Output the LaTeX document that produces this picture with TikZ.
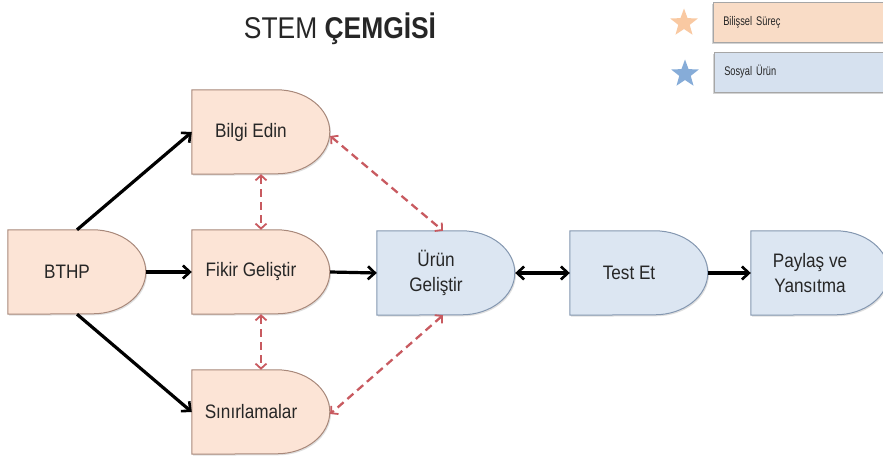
\documentclass[tikz,border=0pt]{standalone}
\usepackage{fontspec}
\setmainfont{Liberation Sans}
\newfontfamily\narrowfont[FakeStretch=0.88]{Liberation Sans}
\newfontfamily\legfont[FakeStretch=0.74,WordSpace=0.7]{Liberation Sans}
\usetikzlibrary{arrows.meta,backgrounds,shadows,shapes.geometric}
\definecolor{orfill}{HTML}{FCE4D6}
\definecolor{orline}{HTML}{A8887A}
\definecolor{blfill}{HTML}{DCE6F2}
\definecolor{blline}{HTML}{8497B0}
\definecolor{reddash}{HTML}{C85A60}
\definecolor{txt}{HTML}{262626}
\definecolor{legor}{HTML}{F9DCC6}
\definecolor{legbl}{HTML}{D6E1EF}
\definecolor{staror}{HTML}{F9C9A2}
\definecolor{starbl}{HTML}{86ACD8}
\newcommand\delayshape[2]{\path[#2] (#1.south west) -- (#1.north west) -- ([xshift=85pt]#1.north west) arc[start angle=90,end angle=-90,x radius=53pt,y radius=42pt] -- cycle;}
\begin{document}
\begin{tikzpicture}[x=1pt,y=-1pt,
  box/.style={minimum width=138pt,minimum height=84pt,inner sep=0pt},
  lbl/.style={xshift=-10pt,font=\narrowfont\fontsize{19.5}{25}\selectfont,text=txt,align=center},
  orshape/.style={fill=orfill,draw=orline,line width=1pt,drop shadow={shadow xshift=1.2pt,shadow yshift=-1.5pt,opacity=0.25}},
  blshape/.style={fill=blfill,draw=blline,line width=1pt,drop shadow={shadow xshift=1.2pt,shadow yshift=-1.5pt,opacity=0.25}},
  blk/.style={line width=3.2pt,black,-{Straight Barb[length=7pt,width=13pt,line width=2.6pt]}},
  blk2/.style={line width=3.2pt,black,{Straight Barb[length=7pt,width=13pt,line width=2.6pt]}-{Straight Barb[length=7pt,width=13pt,line width=2.6pt]}},
  rdash/.style={line width=2.3pt,reddash,dash pattern=on 8pt off 5pt,{Straight Barb[length=5pt,width=11pt,line width=1.8pt]}-{Straight Barb[length=5pt,width=11pt,line width=1.8pt]}},
  legbox/.style={anchor=west,minimum width=180pt,minimum height=40pt,text width=160pt,align=left,inner xsep=8pt,draw=gray!70,line width=0.6pt,font=\legfont\fontsize{12.5}{15}\selectfont,text=txt,drop shadow={shadow xshift=-1pt,shadow yshift=-2.5pt,opacity=0.35}},
  legstar/.style={star,star points=5,star point ratio=2.4,minimum size=29pt,inner sep=0pt}
]
\useasboundingbox (0,0) rectangle (883,462);
% title
\node[text=txt] (title) at (340,29) {\narrowfont\fontsize{30}{32}\selectfont STEM \textbf{ÇEMGİSİ}};
% legend
\node[legstar,fill=staror] (star1) at (684,23) {};
\node[legstar,fill=starbl] (star2) at (685,74) {};
\node[legbox,fill=legor] (leg1) at (713,22) {Bilişsel Süreç};
\node[legbox,fill=legbl] (leg2) at (714,72) {Sosyal Ürün};
% process nodes
\node[box,label={[lbl]center:BTHP}] (bthp) at (77,272) {};
\node[box,label={[lbl]center:Bilgi Edin}] (bilgi) at (261,132) {};
\node[box,label={[lbl]center:Fikir Geliştir}] (fikir) at (261,272) {};
\node[box,label={[lbl]center:Sınırlamalar}] (sinir) at (261,412) {};
\node[box,label={[lbl]center:Ürün\\Geliştir}] (urun) at (446,273) {};
\node[box,label={[lbl]center:Test Et}] (test) at (639,273) {};
\node[box,label={[lbl]center:Paylaş ve\\Yansıtma}] (paylas) at (820,273) {};
\begin{scope}[on background layer]
\delayshape{bthp}{orshape}
\delayshape{bilgi}{orshape}
\delayshape{fikir}{orshape}
\delayshape{sinir}{orshape}
\delayshape{urun}{blshape}
\delayshape{test}{blshape}
\delayshape{paylas}{blshape}
\end{scope}
% black arrows
\draw[blk] (bthp.north) -- (bilgi.west);
\draw[blk] (bthp.east) -- (fikir.west);
\draw[blk] (bthp.south) -- (sinir.west);
\draw[blk] (fikir.east) -- (urun.west);
\draw[blk2] (urun.east) -- (test.west);
\draw[blk] (test.east) -- (paylas.west);
% red dashed arrows
\draw[rdash] (bilgi.south) -- (fikir.north);
\draw[rdash] (fikir.south) -- (sinir.north);
\draw[rdash] ([yshift=-4pt]bilgi.east) -- ([xshift=-3pt]urun.north);
\draw[rdash] ([xshift=-3pt]urun.south) -- ([yshift=-2pt]sinir.east);
\end{tikzpicture}
\end{document}
